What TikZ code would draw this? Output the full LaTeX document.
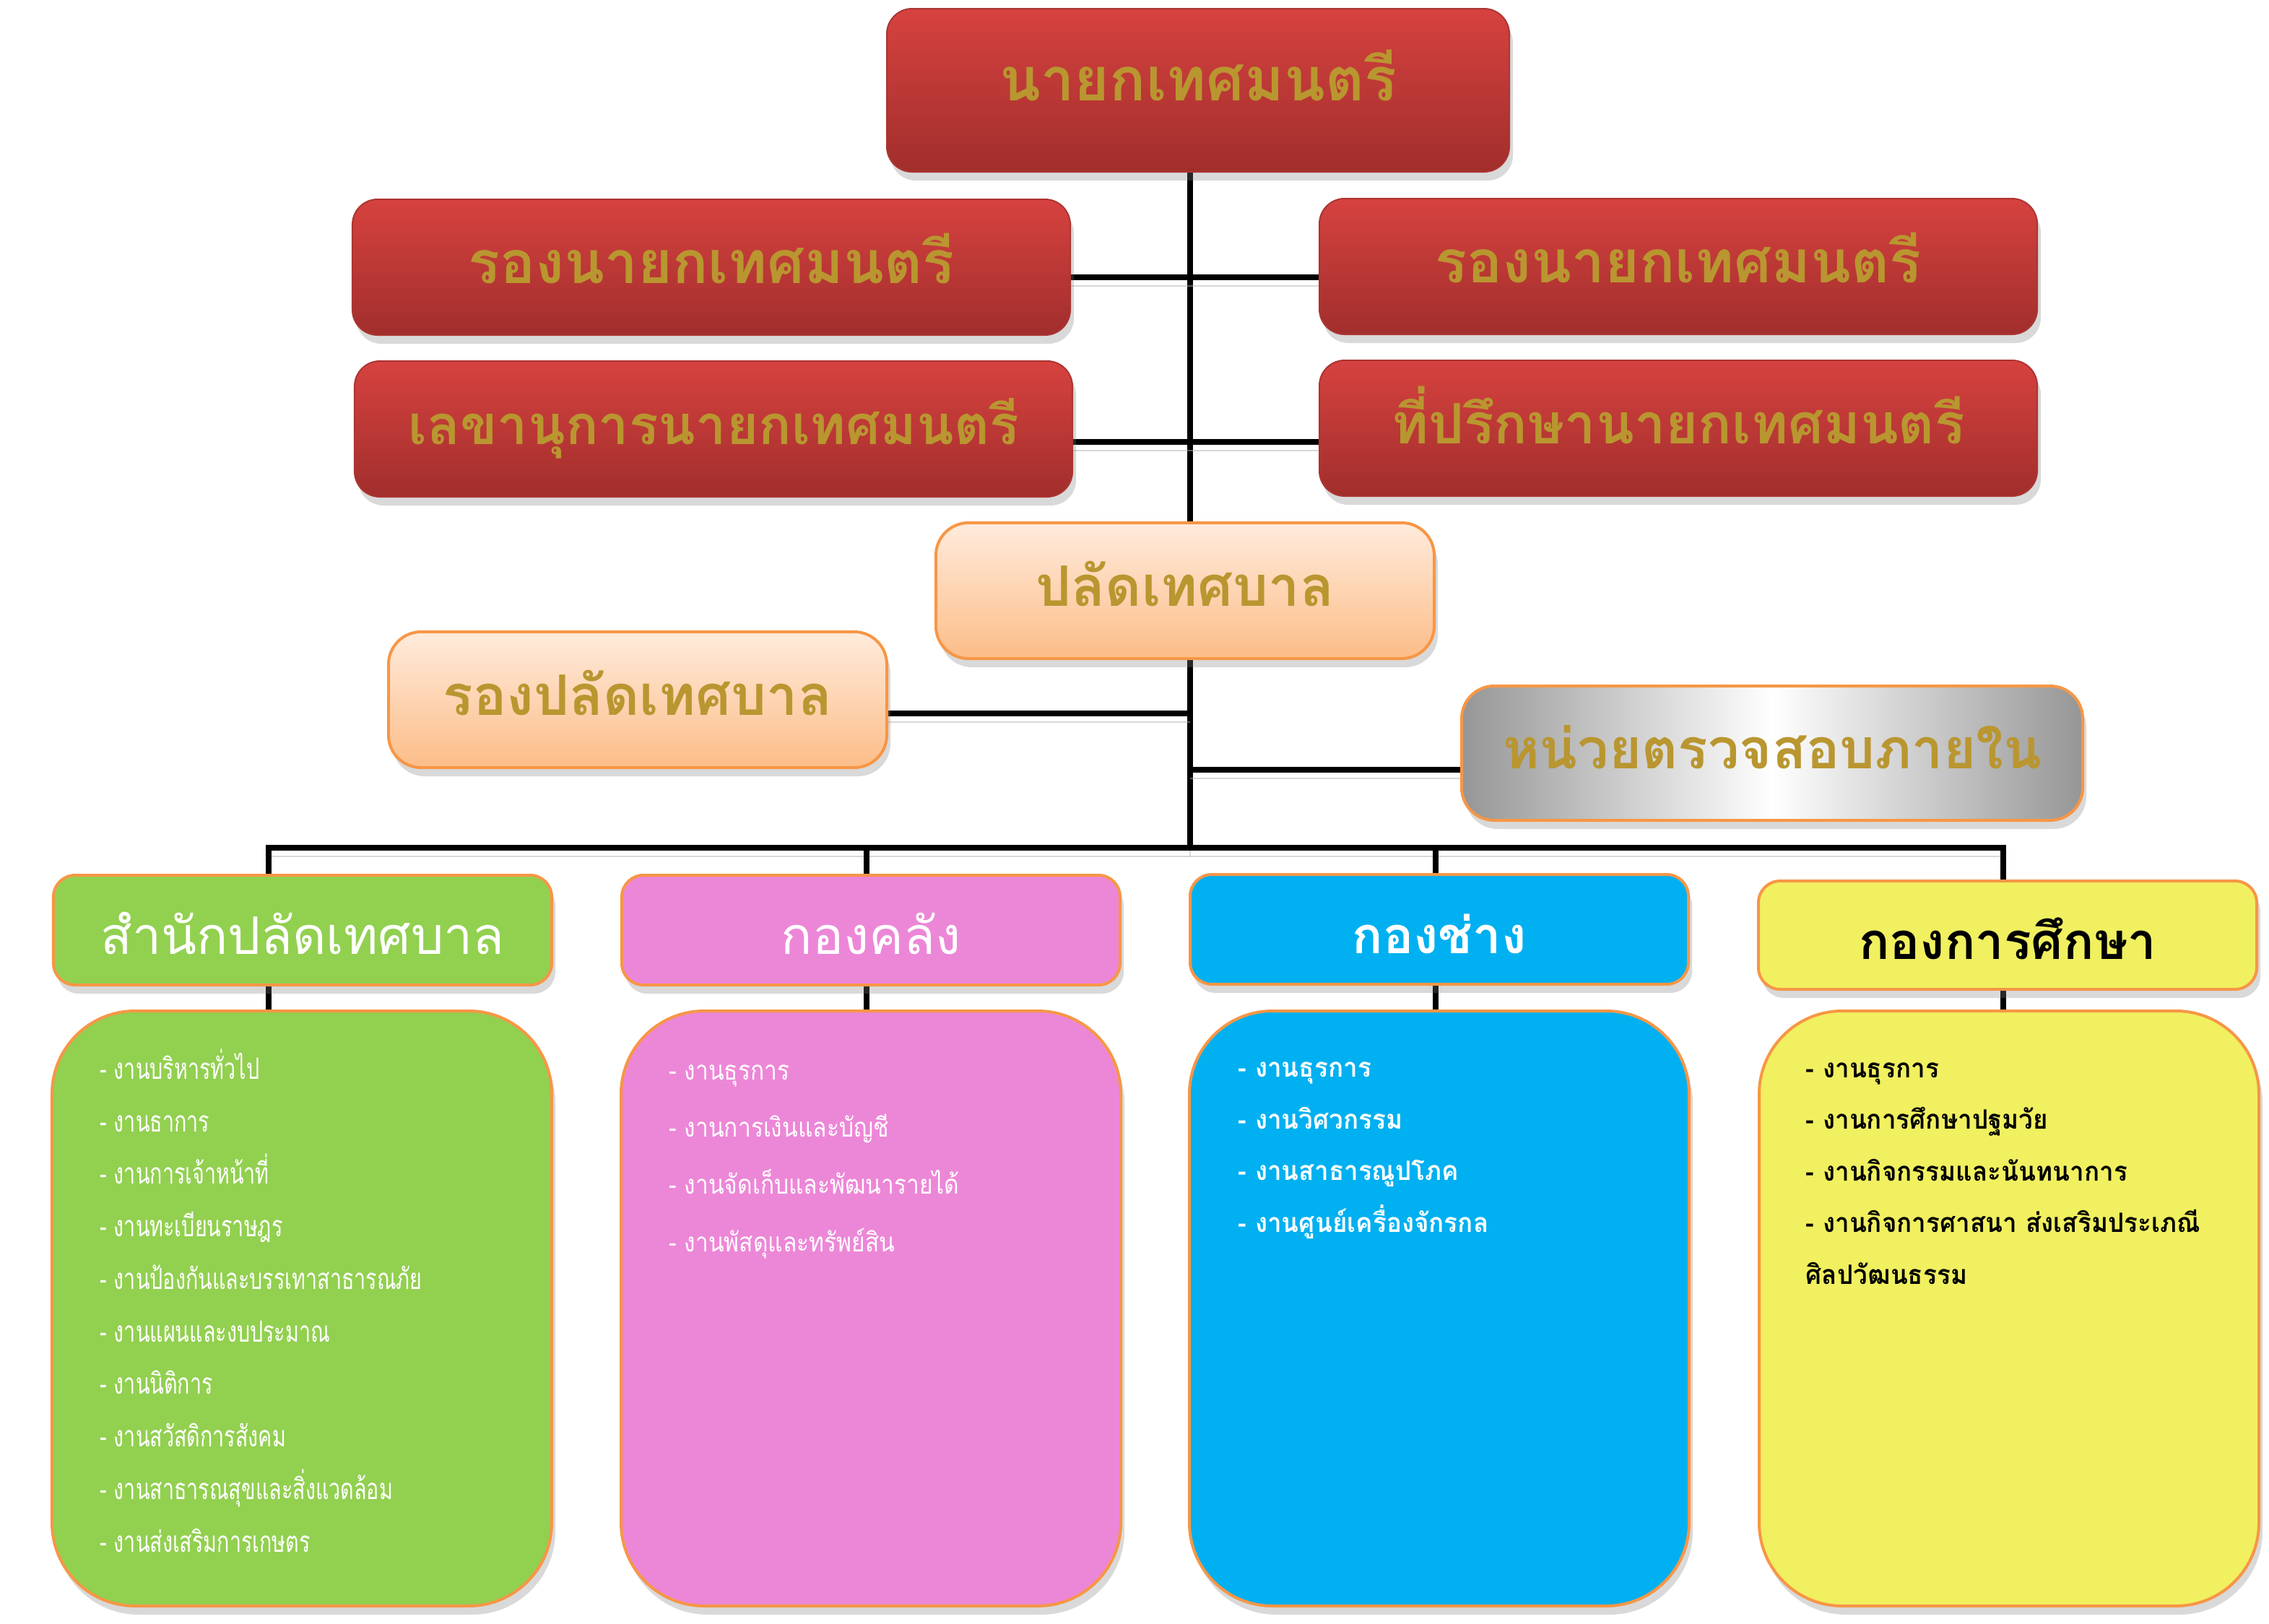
\documentclass[tikz,border=0pt]{standalone}
\usepackage{fontspec}
\newfontfamily\thai[Script=Thai]{Loma}
\newfontfamily\thaiN[Script=Thai,FakeStretch=0.71]{Loma}
\newfontfamily\thaiM[Script=Thai,FakeStretch=0.86]{Loma}
\newfontfamily\thaiW[Script=Thai,FakeStretch=0.95]{Loma}
\usetikzlibrary{shadows,backgrounds}

\definecolor{gold}{RGB}{185,150,48}
\definecolor{redtop}{RGB}{214,66,63}
\definecolor{redbot}{RGB}{161,46,44}
\definecolor{peachtop}{RGB}{255,235,220}
\definecolor{peachbot}{RGB}{252,189,136}
\definecolor{orangeline}{RGB}{247,150,70}
\definecolor{greyside}{RGB}{150,150,150}
\definecolor{greenfill}{RGB}{146,208,80}
\definecolor{pinkfill}{RGB}{236,135,215}
\definecolor{bluefill}{RGB}{0,176,240}
\definecolor{yellowfill}{RGB}{241,240,96}

\begin{document}
\begin{tikzpicture}[x=0.2mm,y=-0.2mm,
  line/.style={line width=0.75mm,preaction={draw=black!30,opacity=0.5,transform canvas={yshift=-1.2mm}}},
  boxshadow/.style={drop shadow={shadow xshift=0.5mm,shadow yshift=-1.2mm,opacity=0.3}},
  title/.style={inner sep=0pt,text height=12.4pt,text depth=0pt,text=gold,font=\thai\bfseries\fontsize{22}{26}\selectfont},
  redbox/.style={title,boxshadow,rounded corners=3.5mm,top color=redtop,bottom color=redbot,draw=redtop!80!black,line width=0.2mm},
  peachbox/.style={title,boxshadow,rounded corners=4.5mm,top color=peachtop,bottom color=peachbot,draw=orangeline,line width=0.4mm,minimum width=69mm,minimum height=18.8mm},
  greybox/.style={title,boxshadow,rounded corners=4.5mm,left color=greyside,right color=greyside,middle color=white,draw=orangeline,line width=0.4mm},
  dept/.style={boxshadow,inner sep=0pt,text height=19pt,text depth=0pt,rounded corners=3mm,draw=orangeline,line width=0.4mm,minimum width=69mm,minimum height=15.2mm,text=white,font=\thai\fontsize{20.4}{24}\selectfont},
  body/.style={boxshadow,rounded corners=11.5mm,draw=orangeline,line width=0.4mm,minimum width=69.2mm,minimum height=82.4mm},
  items/.style={inner sep=0pt,align=left,text=white,anchor=base west}
]
\useasboundingbox (0,0) rectangle (1571,1124);

% top management
\node[redbox,minimum width=86.2mm,minimum height=22.6mm,text height=13pt,text depth=4.6pt,font=\thai\bfseries\fontsize{23.7}{28}\selectfont] (mayor) at (829.5,62.5) {นายกเทศมนตรี};
\node[redbox,minimum width=99.4mm,minimum height=18.8mm,text height=12.8pt,font=\thai\bfseries\fontsize{23.3}{28}\selectfont] (deputyL) at (492.5,185) {รองนายกเทศมนตรี};
\node[redbox,minimum width=99.4mm,minimum height=18.8mm,text height=12.8pt,font=\thai\bfseries\fontsize{23.3}{28}\selectfont] (deputyR) at (1162,184.5) {รองนายกเทศมนตรี};
\node[redbox,minimum width=99.4mm,minimum height=18.8mm,font=\thai\bfseries\fontsize{21.5}{26}\selectfont] (secretary) at (494,297) {เลขานุการนายกเทศมนตรี};
\node[redbox,minimum width=99.4mm,minimum height=18.8mm] (advisor) at (1162,296.5) {ที่ปรึกษานายกเทศมนตรี};

\node[peachbox] (clerk) at (820.5,409) {ปลัดเทศบาล};
\node[peachbox] (dclerk) at (441.5,484.5) {รองปลัดเทศบาล};
\node[greybox,minimum width=86mm,minimum height=18.6mm] (audit) at (1227,521.5) {หน่วยตรวจสอบภายใน};

% departments
\node[dept,fill=greenfill] (hdA) at (209.5,644) {สำนักปลัดเทศบาล};
\node[dept,fill=pinkfill] (hdB) at (603,644) {กองคลัง};
\node[dept,fill=bluefill,font=\thai\bfseries\fontsize{20}{24}\selectfont] (hdC) at (996.5,643.5) {กองช่าง};
\node[dept,fill=yellowfill,text=black,minimum height=15mm,font=\thai\bfseries\fontsize{20}{24}\selectfont] (hdD) at (1390,647.5) {กองการศึกษา};

\node[body,fill=greenfill] (bdA) at (209,906) {};
\node[body,fill=pinkfill] (bdB) at (603,906) {};
\node[body,fill=bluefill] (bdC) at (996.5,906) {};
\node[body,fill=yellowfill] (bdD) at (1391,906) {};

\node[items,font=\thaiN\fontsize{11.5}{20.7}\selectfont] (lsA) at (69,1074.5) {- งานบริหารทั่วไป\\- งานธาการ\\- งานการเจ้าหน้าที่\\- งานทะเบียนราษฎร\\- งานป้องกันและบรรเทาสาธารณภัย\\- งานแผนและงบประมาณ\\- งานนิติการ\\- งานสวัสดิการสังคม\\- งานสาธารณสุขและสิ่งแวดล้อม\\- งานส่งเสริมการเกษตร};
\node[items,font=\thaiM\fontsize{10.5}{22.5}\selectfont] (lsB) at (463,866.5) {- งานธุรการ\\- งานการเงินและบัญชี\\- งานจัดเก็บและพัฒนารายได้\\- งานพัสดุและทรัพย์สิน};
\node[items,font=\thaiW\bfseries\fontsize{10.5}{20.3}\selectfont] (lsC) at (857,853) {- งานธุรการ\\- งานวิศวกรรม\\- งานสาธารณูปโภค\\- งานศูนย์เครื่องจักรกล};
\node[items,text=black,font=\thaiW\bfseries\fontsize{10.5}{20.3}\selectfont] (lsD) at (1250,889) {- งานธุรการ\\- งานการศึกษาปฐมวัย\\- งานกิจกรรมและนันทนาการ\\- งานกิจการศาสนา ส่งเสริมประเภณี\\ศิลปวัฒนธรรม};

\coordinate (jA) at (186,587);
\coordinate (jB) at (600,587);
\coordinate (jM) at (824,587);
\coordinate (jC) at (994,587);
\coordinate (jD) at (1387,587);

\begin{scope}[on background layer]
\draw[line] (jM |- mayor.south) -- (jM);
\draw[line] (deputyL.east |- 0,192) -- (deputyR.west |- 0,192);
\draw[line] (secretary.east |- 0,306) -- (advisor.west |- 0,306);
\draw[line] (dclerk.east |- 0,494) -- (jM |- 0,494);
\draw[line] (jM |- 0,533) -- (audit.west |- 0,533);
\draw[line] (jA |- hdA.north) -- (jA) -- (jD) -- (jD |- hdD.north);
\draw[line] (jB) -- (jB |- hdB.north);
\draw[line] (jC) -- (jC |- hdC.north);
\draw[line] (jA |- hdA.south) -- (jA |- bdA.north);
\draw[line] (jB |- hdB.south) -- (jB |- bdB.north);
\draw[line] (jC |- hdC.south) -- (jC |- bdC.north);
\draw[line] (jD |- hdD.south) -- (jD |- bdD.north);
\end{scope}
\end{tikzpicture}
\end{document}
